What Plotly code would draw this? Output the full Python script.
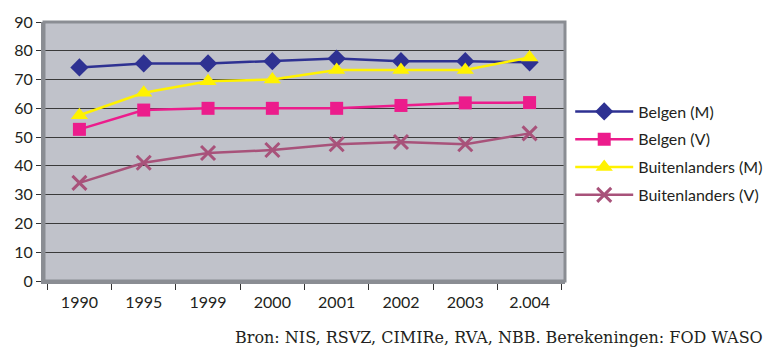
import plotly.graph_objects as go

jaren = ['1990', '1995', '1999', '2000', '2001', '2002', '2003', '2.004']
belgen_m = [74.2, 75.6, 75.6, 76.4, 77.3, 76.4, 76.4, 76.0]
belgen_v = [52.7, 59.4, 60.0, 60.0, 60.0, 61.0, 61.9, 62.0]
buitenl_m = [57.6, 65.4, 69.4, 70.0, 73.3, 73.3, 73.3, 77.7]
buitenl_v = [34.1, 41.1, 44.5, 45.5, 47.5, 48.3, 47.5, 51.3]

fig = go.Figure()
fig.add_trace(go.Scatter(x=jaren, y=belgen_m, name='Belgen (M)', mode='lines+markers',
                         legendgroup='a',
                         line=dict(color='#2E3192', width=2.5),
                         marker=dict(symbol='diamond', size=14, color='#2E3192')))
fig.add_trace(go.Scatter(x=jaren, y=belgen_v, name='Belgen (V)', mode='lines+markers',
                         legendgroup='b',
                         line=dict(color='#EC1C8C', width=2.5),
                         marker=dict(symbol='square', size=13, color='#EC1C8C')))
fig.add_trace(go.Scatter(x=jaren, y=buitenl_m, name='Buitenlanders (M)', mode='lines+markers',
                         legendgroup='c',
                         line=dict(color='#FFF200', width=2.5),
                         marker=dict(symbol='triangle-up', size=15, color='#FFF200')))
fig.add_trace(go.Scatter(x=jaren, y=buitenl_v, name='Buitenlanders (V)', mode='lines+markers',
                         legendgroup='d',
                         line=dict(color='#A8527A', width=2.5),
                         marker=dict(symbol='x-thin', size=14, color='#A8527A',
                                     line=dict(color='#A8527A', width=3))))

# de pagina heeft 8px body-marge, dus alles 8px kleiner/verschoven
fig.update_layout(
    width=765, height=345,
    margin=dict(l=36, r=208, t=14, b=72, autoexpand=False),
    paper_bgcolor='white',
    plot_bgcolor='#C0C2CA',
    font=dict(family='Lato', size=16, color='#231F20'),
    showlegend=True,
    legend=dict(x=1.01, y=0.72, xanchor='left', yanchor='top',
                font=dict(size=16, color='#231F20'), tracegroupgap=4,
                itemwidth=58, bgcolor='rgba(0,0,0,0)'),
    xaxis=dict(type='category', tickson='boundaries', ticks='outside', ticklen=6,
               tickcolor='#333', showgrid=False, showline=True, linecolor='#8A8D93',
               linewidth=3, tickfont=dict(size=16), ticklabelstandoff=5, automargin=False),
    yaxis=dict(range=[0, 90], dtick=10, ticks='outside', ticklen=5, tickcolor='#333',
               showgrid=True, gridcolor='#3A3A3A', gridwidth=1.3, zeroline=False,
               showline=True, linecolor='#8A8D93', linewidth=3, tickfont=dict(size=16),
               automargin=False),
)

# kader rond het plotvlak
fig.add_shape(type='rect', xref='paper', yref='paper', x0=0, y0=0, x1=1, y1=1,
              line=dict(color='#8A8D93', width=3), layer='above')

fig.add_annotation(text='Bron: NIS, RSVZ, CIMIRe, RVA, NBB. Berekeningen: FOD WASO',
                   xref='paper', yref='paper', x=1.384, y=-0.22, xanchor='right', yanchor='middle',
                   showarrow=False, font=dict(family='DejaVu Serif', size=16, color='#231F20'))

fig.write_html("out.html")
